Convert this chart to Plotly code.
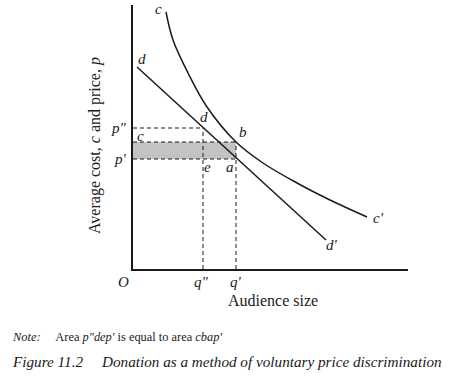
import plotly.graph_objects as go

# Values (x: audience size, y: cost/price, arbitrary units)
cost_x = [33, 40, 55, 74, 103, 130, 164, 197, 234]
cost_y = [257, 229, 196, 162, 127, 106, 86, 69, 52]
demand_x = [4, 193]
demand_y = [202, 29]
p_dd = 141   # p''
p_c = 127    # c / b level
p_p = 110    # p'
q_dd = 70    # q''
q_p = 103    # q'

X_MAX = 275
Y_MAX = 264

SERIF = "Liberation Serif, Times New Roman, serif"
INK = "#1a1a1a"

fig = go.Figure()

# shaded area c b a p'
fig.add_trace(go.Scatter(x=[0, q_p, q_p, 0, 0], y=[p_p, p_p, p_c, p_c, p_p],
                         fill="toself", fillcolor="#c3c3c3", mode="none",
                         hoverinfo="skip", showlegend=False))

dash = dict(color=INK, width=1, dash="4px,3px")
for xs, ys in [([0, q_dd], [p_dd, p_dd]),
               ([0, q_p], [p_c, p_c]),
               ([0, q_p], [p_p, p_p]),
               ([q_dd, q_dd], [0, p_dd]),
               ([q_p, q_p], [0, p_c])]:
    fig.add_trace(go.Scatter(x=xs, y=ys, mode="lines", line=dash,
                             hoverinfo="skip", showlegend=False))

fig.add_trace(go.Scatter(x=demand_x, y=demand_y, mode="lines",
                         line=dict(color=INK, width=1.5), showlegend=False))
fig.add_trace(go.Scatter(x=cost_x, y=cost_y, mode="lines",
                         line=dict(color=INK, width=1.5, shape="spline", smoothing=1.0),
                         showlegend=False))

def lab(px, py, t, size=15, xa="center", ya="middle", italic=True, **kw):
    # px, py are pixel positions in the figure
    fig.add_annotation(x=(px - 133) / X_MAX, y=(269 - py) / Y_MAX, xref="paper", yref="paper",
                       text=(f"<i>{t}</i>" if italic else t),
                       showarrow=False, xanchor=xa, yanchor=ya,
                       font=dict(family=SERIF, size=size, color=INK), **kw)

lab(158, 9, "c")
lab(142, 59, "d")
lab(204, 117, "d")
lab(243, 132, "b")
lab(140, 136, "c")
lab(207, 167, "e")
lab(230, 167, "a")
lab(378, 218, "c'")
lab(332, 245, "d'")
lab(129, 128, "p\"", xa="right")
lab(129, 159, "p'", xa="right")
lab(123, 282, "O")
lab(201, 282, "q\"")
lab(236, 282, "q'")
lab(273, 300, "Audience size", size=16, italic=False)
lab(95, 146, "Average cost, <i>c</i> and price, <i>p</i>", size=16, italic=False, textangle=-90)

lab(10, 337, "<i>Note:</i>&nbsp;&nbsp;&nbsp;&nbsp; Area <i>p\"dep'</i> is equal to area <i>cbap'</i>",
    size=12.4, xa="left", italic=False)
lab(10, 361, "Figure 11.2&nbsp;&nbsp;&nbsp;&nbsp; Donation as a method of voluntary price discrimination",
    size=15.2, xa="left")

axis_common = dict(showgrid=False, zeroline=False, showticklabels=False, ticks="",
                   showline=True, linecolor=INK, linewidth=1.5)
fig.update_xaxes(range=[0, X_MAX], **axis_common)
fig.update_yaxes(range=[0, Y_MAX], **axis_common)

fig.update_layout(width=471, height=385, margin=dict(l=133, r=63, t=5, b=116),
                  plot_bgcolor="white", paper_bgcolor="white", showlegend=False)

fig.write_html("out.html", config={"displayModeBar": False},
               post_script="document.body.style.margin='0';")
